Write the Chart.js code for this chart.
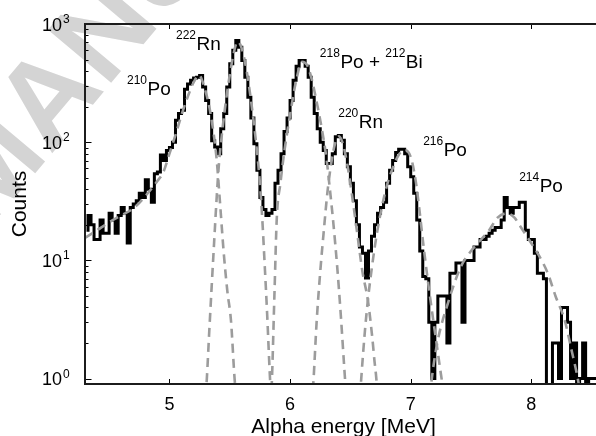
<!DOCTYPE html>
<html lang="en">
<head>
  <meta charset="UTF-8">
  <title>Alpha spectrum</title>
  <script src="https://cdn.jsdelivr.net/npm/chart.js"></script>
  <style>
    html, body { margin: 0; padding: 0; background: #fff; }
    #wrap { width: 596px; height: 436px; position: relative; }
  </style>
</head>
<body>
<div id="wrap"><canvas id="spectrum"></canvas></div>
<script>
// measured histogram, bins of 0.025 MeV starting at 4.30 MeV
const binStart = 4.30;
const binWidth = 0.025;
const counts = [
  18, 24, 20, 15, 15, 22, 17, 17, 25, 22,
  17, 24, 28, 25, 14, 28, 30, 32, 37, 34,
  48, 40, 31, 54, 56, 78, 70, 85, 90, 100,
  153, 175, 186, 280, 310, 334, 350, 355, 367, 293,
  225, 175, 103, 91, 80, 130, 175, 293, 460, 600,
  726, 637, 492, 355, 240, 160, 97, 58, 34, 27,
  24, 25, 27, 45, 58, 80, 123, 160, 225, 334,
  440, 492, 492, 440, 355, 240, 175, 130, 100, 85,
  66, 66, 80, 111, 114, 104, 80, 62, 45, 32,
  20, 13, 11.5, 7.1, 12, 16, 20, 25, 28, 31,
  45, 58, 70, 82, 87, 87, 80, 62, 51, 37,
  22, 12, 7.3, 7, 3, 1, 3, 5, 5, 5,
  2, 7.8, 7.8, 9.5, 9.5, 3, 10, 10, 10, 13,
  13, 15, 15, 16, 17, 18, 19, 19, 22, 34,
  28, 25, 28, 28, 31, 31, 18, 15, 15, 11.5,
  7.8, 7.8, 7, 0, 0, 2, 2, 1, 4, 4,
  3, 1, 2, 0, 1, 2, 0, 1, 1, 1
];

// fitted peak shapes (gray dashed)
const po210E = [4.30, 4.40, 4.50, 4.60, 4.70, 4.80, 4.90, 4.95, 5.00, 5.05, 5.10, 5.15, 5.20, 5.245, 5.29, 5.34, 5.39, 5.42, 5.45, 5.48, 5.51, 5.54, 5.56];
const po210C = [15.5, 18, 21, 24, 27.5, 35, 47, 56, 80, 115, 170, 240, 320, 370, 290, 176, 74, 30, 11.6, 5.5, 3.1, 1.0, 0.6];
const rn222E = [5.30, 5.31, 5.33, 5.35, 5.37, 5.39, 5.41, 5.44, 5.47, 5.50, 5.53, 5.565, 5.60, 5.64, 5.68, 5.72, 5.75, 5.77, 5.79, 5.81, 5.83, 5.845];
const rn222C = [0.7, 1.0, 2.5, 6, 14, 32, 65, 130, 230, 370, 550, 710, 620, 400, 210, 95, 45, 22, 9, 3.5, 1.2, 0.6];
const po218E = [5.84, 5.85, 5.87, 5.89, 5.92, 5.95, 6.00, 6.05, 6.10, 6.14, 6.18, 6.22, 6.26, 6.30, 6.33, 6.36, 6.39, 6.42, 6.45, 6.47];
const po218C = [0.6, 1.0, 5, 23, 45, 80, 170, 330, 480, 450, 340, 220, 135, 75, 40, 20, 9, 3.5, 1.2, 0.6];
const rn220E = [6.18, 6.195, 6.22, 6.25, 6.28, 6.31, 6.34, 6.37, 6.405, 6.44, 6.48, 6.52, 6.56, 6.60, 6.645, 6.68, 6.70, 6.715, 6.73];
const rn220C = [0.6, 1.0, 3, 8, 18, 38, 65, 95, 112, 95, 60, 32, 16, 8, 4.6, 2.3, 1.4, 1.0, 0.6];
const po216E = [6.58, 6.59, 6.62, 6.645, 6.68, 6.72, 6.76, 6.80, 6.85, 6.90, 6.95, 7.00, 7.04, 7.07, 7.10, 7.14, 7.18, 7.22, 7.25, 7.27];
const po216C = [0.7, 1.0, 2.5, 4.6, 9, 17, 28, 42, 60, 78, 86, 75, 48, 28, 15, 7, 3.5, 1.8, 1.1, 0.8];
const po214E = [7.16, 7.175, 7.22, 7.31, 7.415, 7.50, 7.556, 7.65, 7.72, 7.80, 7.86, 7.90, 7.98, 8.05, 8.136, 8.20, 8.277, 8.33, 8.385, 8.41];
const po214C = [0.7, 1.0, 2, 4.4, 8.8, 12, 14, 18, 23, 25, 23, 20, 15, 11.6, 7.8, 5, 3.1, 1.8, 1.0, 0.7];

const xTicks = [5, 6, 7, 8];
const yTicks = [1, 10, 100, 1000];

// peak labels: [mass number, symbol] pairs and where the text starts (MeV, counts)
const labelParts = [
  [['210', 'Po']],
  [['222', 'Rn']],
  [['218', 'Po + '], ['212', 'Bi']],
  [['220', 'Rn']],
  [['216', 'Po']],
  [['214', 'Po']]
];
const labelE = [4.648, 5.054, 6.247, 6.399, 7.103, 7.899];
const labelC = [251, 603, 422, 131, 77, 37.8];

const FONT = "'Liberation Sans', Arial, sans-serif";
const FLOOR = 0.5; // empty bins fall below the axis floor on a log scale

function pts(es, cs) {
  return es.map((e, i) => ({ x: e, y: cs[i] }));
}

const histPoints = counts.map((c, i) => ({
  x: binStart + binWidth * (i + 0.5),
  y: c > 0 ? c : FLOOR
}));

function fitSet(es, cs) {
  return {
    data: pts(es, cs),
    borderColor: '#9c9c9c',
    borderWidth: 2.6,
    borderDash: [9, 6],
    pointRadius: 0,
    cubicInterpolationMode: 'monotone',
    order: 1
  };
}

const matlabAxes = {
  id: 'matlabAxes',
  beforeDraw(chart) {
    // faint diagonal watermark behind the plot
    const ctx = chart.ctx;
    ctx.save();
    ctx.translate(-14, 232);
    ctx.rotate(-50 * Math.PI / 180);
    ctx.font = 'bold 120px ' + FONT;
    ctx.fillStyle = '#d4d4d4';
    ctx.textBaseline = 'alphabetic';
    ctx.fillText('MANUSCRIPT', 0, 0);
    const w = ctx.measureText('ACCEPTED ').width;
    ctx.fillText('ACCEPTED', -w, 0);
    ctx.restore();
  },
  afterDraw(chart) {
    const { ctx, chartArea: a, scales: { x, y } } = chart;
    ctx.save();

    // tick marks, pointing inwards
    ctx.strokeStyle = '#000';
    ctx.lineWidth = 1;
    ctx.beginPath();
    xTicks.forEach(v => {
      const px = Math.round(x.getPixelForValue(v)) + 0.5;
      ctx.moveTo(px, a.bottom); ctx.lineTo(px, a.bottom - 5);
      ctx.moveTo(px, a.top); ctx.lineTo(px, a.top + 5);
    });
    yTicks.forEach(v => {
      const py = Math.round(y.getPixelForValue(v)) + 0.5;
      ctx.moveTo(a.left, py); ctx.lineTo(a.left + 6.5, py);
    });
    [1, 10, 100].forEach(dec => {
      for (let m = 2; m <= 9; m++) {
        const py = Math.round(y.getPixelForValue(dec * m)) + 0.5;
        ctx.moveTo(a.left, py); ctx.lineTo(a.left + 3.5, py);
      }
    });
    ctx.stroke();

    // box (no right edge visible)
    ctx.strokeStyle = '#1c1c1c';
    ctx.lineWidth = 2;
    ctx.beginPath();
    ctx.moveTo(a.right, a.top); ctx.lineTo(a.left, a.top);
    ctx.lineTo(a.left, a.bottom); ctx.lineTo(a.right, a.bottom);
    ctx.stroke();

    ctx.fillStyle = '#000';
    ctx.textBaseline = 'alphabetic';

    // x tick labels
    ctx.font = '18px ' + FONT;
    ctx.textAlign = 'center';
    xTicks.forEach(v => ctx.fillText(String(v), x.getPixelForValue(v), 410));

    // y tick labels as 10 with exponent
    yTicks.forEach(v => {
      const py = y.getPixelForValue(v);
      ctx.font = '18px ' + FONT;
      ctx.textAlign = 'right';
      ctx.fillText('10', 62, py + 6.5);
      ctx.font = '12px ' + FONT;
      ctx.textAlign = 'left';
      ctx.fillText(String(Math.round(Math.log10(v))), 63, py - 1);
    });

    // axis titles
    ctx.font = '21px ' + FONT;
    ctx.textAlign = 'center';
    ctx.fillText('Alpha energy [MeV]', (a.left + a.right) / 2 + 3, 433);
    ctx.save();
    ctx.translate(26, (a.top + a.bottom) / 2);
    ctx.rotate(-Math.PI / 2);
    ctx.fillText('Counts', 0, 0);
    ctx.restore();

    // peak labels
    ctx.textAlign = 'left';
    labelParts.forEach((parts, i) => {
      let cx = x.getPixelForValue(labelE[i]);
      const py = y.getPixelForValue(labelC[i]);
      parts.forEach(([mass, sym]) => {
        ctx.font = '12px ' + FONT;
        ctx.fillText(mass, cx, py - 11);
        cx += ctx.measureText(mass).width + 0.5;
        ctx.font = '19px ' + FONT;
        ctx.fillText(sym, cx, py);
        cx += ctx.measureText(sym).width;
      });
    });

    ctx.restore();
  }
};

new Chart(document.getElementById('spectrum'), {
  type: 'line',
  data: {
    datasets: [
      {
        data: histPoints,
        borderColor: '#000',
        borderWidth: 3,
        stepped: 'middle',
        pointRadius: 0,
        order: 2
      },
      fitSet(po210E, po210C),
      fitSet(rn222E, rn222C),
      fitSet(po218E, po218C),
      fitSet(rn220E, rn220C),
      fitSet(po216E, po216C),
      fitSet(po214E, po214C)
    ]
  },
  options: {
    responsive: true,
    maintainAspectRatio: false,
    animation: false,
    layout: { padding: { left: 85, top: 24, right: 0, bottom: 52 } },
    plugins: { legend: { display: false }, tooltip: { enabled: false } },
    scales: {
      x: { type: 'linear', min: 4.3, max: 8.536, display: false },
      y: { type: 'logarithmic', min: 0.9, max: 1000, display: false }
    }
  },
  plugins: [matlabAxes]
});
</script>
</body>
</html>
